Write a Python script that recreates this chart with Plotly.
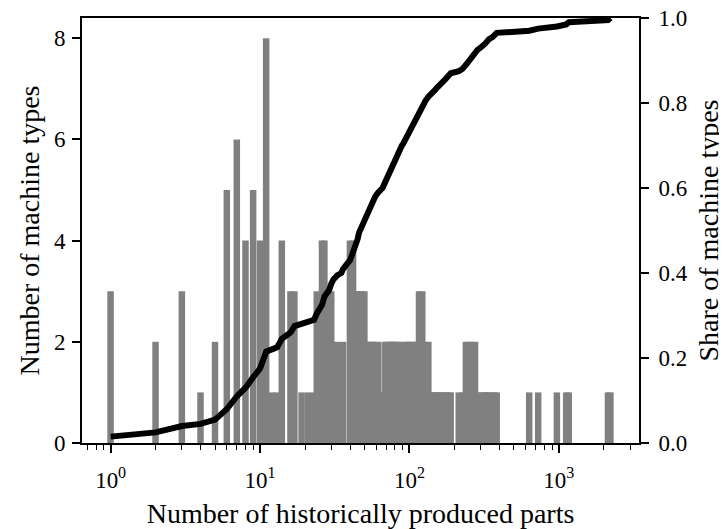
import numpy as np
import plotly.graph_objects as go

# number of historically produced parts (distinct values) and machine types per value
parts = [1, 2, 3, 4, 5, 6, 7, 8, 9, 10, 11, 12, 13, 14, 16, 17, 19, 21, 23, 24,
         26, 27, 29, 30, 31, 33, 35, 36, 40, 42, 44, 45, 46, 48, 50, 51, 53, 55, 56, 57,
         59, 62, 65, 66, 67, 69, 71, 73, 75, 77, 79, 81, 84, 87, 89, 91, 94, 97, 100, 104,
         108, 112, 116, 122, 128, 134, 140, 144, 148, 152, 156, 160, 164, 173, 178, 183, 189, 214, 226, 239,
         250, 262, 275, 285, 299, 314, 322, 331, 340, 360, 372, 384, 634, 728, 971, 1121, 1166, 2134, 2217]
counts = [3, 2, 3, 1, 2, 5, 6, 4, 5, 4, 8, 1, 1, 4, 3, 3, 1, 1, 1, 3,
          4, 4, 3, 3, 2, 2, 1, 2, 4, 4, 3, 3, 3, 3, 3, 2, 2, 2, 1, 2,
          2, 2, 1, 1, 1, 2, 2, 2, 2, 2, 2, 2, 2, 2, 1, 1, 2, 2, 2, 2,
          2, 2, 3, 3, 2, 2, 1, 1, 1, 1, 1, 1, 1, 1, 1, 1, 1, 1, 1, 2,
          2, 2, 2, 1, 1, 1, 1, 1, 1, 1, 1, 1, 1, 1, 1, 1, 1, 1, 1]

x_tick_vals = [1, 10, 100, 1000]
x_tick_text = ["10<sup>0</sup>", "10<sup>1</sup>", "10<sup>2</sup>", "10<sup>3</sup>"]
y_tick_vals = [0, 2, 4, 6, 8]
y2_tick_vals = [0.0, 0.2, 0.4, 0.6, 0.8, 1.0]

parts_arr = np.array(parts, dtype=float)
counts_arr = np.array(counts)
widths = 0.1 * parts_arr

# cumulative share of machine types at each distinct value
share = np.cumsum(counts_arr) / counts_arr.sum()

# x range: data extent of bars in log space with 5% margins
lo = np.log10((parts_arr - widths / 2).min())
hi = np.log10((parts_arr + widths / 2).max())
pad = 0.05 * (hi - lo)
xrange = [lo - pad, hi + pad]

minor_vals = [k * 10.0 ** e for e in range(-1, 4) for k in range(2, 10)]
minor_vals = [v for v in minor_vals if xrange[0] <= np.log10(v) <= xrange[1]]

FONT = "Liberation Serif, Times New Roman, serif"
fs = 23

fig = go.Figure()
fig.add_trace(go.Bar(x=parts_arr, y=counts_arr, width=widths,
                     marker=dict(color="#808080", line=dict(width=0)),
                     showlegend=False))
fig.add_trace(go.Scatter(x=parts_arr, y=share, mode="lines", yaxis="y2",
                         line=dict(color="black", width=6),
                         showlegend=False))

fig.update_layout(
    width=727, height=529,
    margin=dict(l=74, r=96, t=10, b=94),
    paper_bgcolor="white", plot_bgcolor="white",
    barmode="overlay",
    font=dict(family=FONT, size=fs, color="black"),
    xaxis=dict(type="log", range=xrange, tickvals=x_tick_vals, ticktext=x_tick_text,
               ticks="outside", ticklen=8, tickwidth=1.8, tickcolor="black",
               showline=True, linecolor="black", linewidth=1.8, mirror=True,
               showgrid=False, zeroline=False, automargin=False,
               minor=dict(tickvals=minor_vals, ticks="outside", ticklen=5,
                          tickwidth=1.4, tickcolor="black", showgrid=False),
               title=dict(text="Number of historically produced parts", standoff=12),
               ticklabelstandoff=7, ticklabeloverflow="allow"),
    yaxis=dict(range=[0, 8.4], tickvals=y_tick_vals, ticks="outside", ticklen=8,
               tickwidth=1.8, tickcolor="black", showline=True, linecolor="black",
               linewidth=1.8, showgrid=False, zeroline=False, automargin=False,
               title=dict(text="Number of machine types", standoff=6),
               ticklabelstandoff=2, ticklabeloverflow="allow"),
    yaxis2=dict(range=[0, 1.0], tickvals=y2_tick_vals, tickformat=".1f",
                overlaying="y", side="right", ticks="outside", ticklen=8,
                tickwidth=1.8, tickcolor="black", showline=True, linecolor="black",
                linewidth=1.8, showgrid=False, zeroline=False, automargin=False,
                title=dict(text="Share of machine types", standoff=12),
                ticklabelstandoff=5, ticklabeloverflow="allow"),
)

fig.write_html("out.html")
